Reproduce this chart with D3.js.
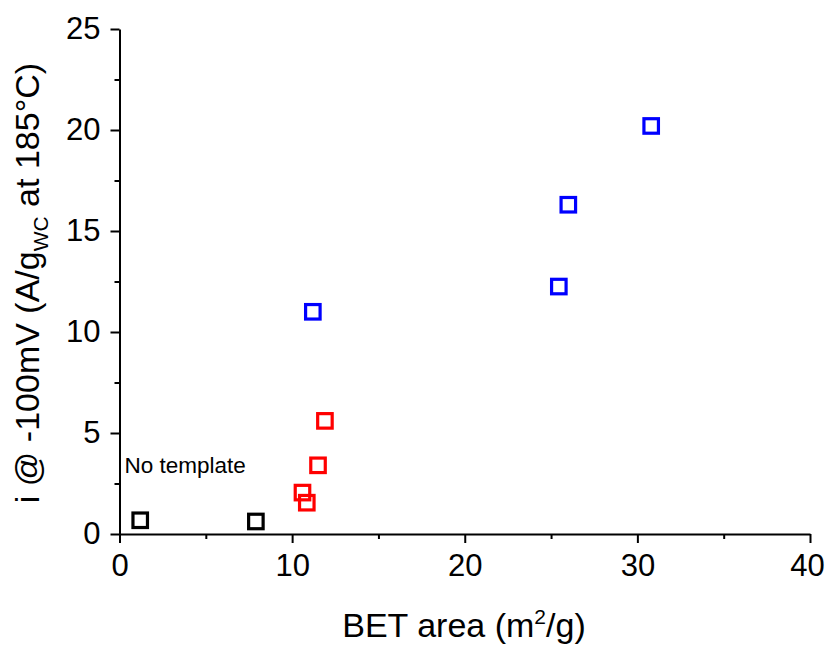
<!DOCTYPE html>
<html>
<head>
<meta charset="utf-8">
<script src="https://cdn.jsdelivr.net/npm/d3@7"></script>
<style>
  body { margin: 0; background: #fff; }
  svg text { font-family: "Liberation Sans", Arial, sans-serif; fill: #000; }
</style>
</head>
<body>
<div id="chart"></div>
<script>
// BET area (m2/g) and current at -100 mV, per sample group
const noTemplateX = [1.2, 7.9];
const noTemplateY = [0.68, 0.62];
const redX = [11.9, 11.5, 10.6, 10.85];
const redY = [5.6, 3.4, 2.05, 1.55];
const blueX = [11.2, 30.8, 26.0, 25.45];
const blueY = [11.0, 20.2, 16.3, 12.25];

const xTicks = [0, 10, 20, 30, 40];
const yTicks = [0, 5, 10, 15, 20, 25];

const series = [
    {name: "No template", color: "#000000", xs: noTemplateX, ys: noTemplateY},
    {name: "red", color: "#ff0000", xs: redX, ys: redY},
    {name: "blue", color: "#0000ff", xs: blueX, ys: blueY}
];

const W = 825, H = 645;
const margin = {top: 29, right: 15, bottom: 111, left: 119.5},
    width = W - margin.left - margin.right,
    height = H - margin.top - margin.bottom;

const svg = d3.select("#chart")
    .append("svg")
        .attr("width", W)
        .attr("height", H);

const g = svg.append("g")
    .attr("transform", "translate(" + margin.left + "," + margin.top + ")");

const x = d3.scaleLinear().domain([0, 40]).range([0, width]);
const y = d3.scaleLinear().domain([0, 25]).range([height, 0]);

// minor ticks first, then major ticks with labels
const xMinor = g.append("g")
    .attr("transform", "translate(0," + height + ")")
    .call(d3.axisBottom(x).tickValues(d3.range(5, 40, 10)).tickSize(5).tickFormat(""));
const yMinor = g.append("g")
    .call(d3.axisLeft(y).tickValues(d3.range(2.5, 25, 5)).tickSize(5).tickFormat(""));

const xAxis = g.append("g")
    .attr("transform", "translate(0," + height + ")")
    .call(d3.axisBottom(x).tickValues(xTicks).tickSize(9).tickPadding(11).tickSizeOuter(0));
const yAxis = g.append("g")
    .call(d3.axisLeft(y).tickValues(yTicks).tickSize(9).tickPadding(10).tickSizeOuter(0));

[xMinor, yMinor].forEach(a => a.select(".domain").remove());
[xMinor, yMinor, xAxis, yAxis].forEach(a => {
    a.selectAll("line").attr("stroke", "#000").attr("stroke-width", 2);
    a.select(".domain").attr("stroke", "#000").attr("stroke-width", 2);
});
xAxis.selectAll(".tick text").style("font-size", "31px");
yAxis.selectAll(".tick text").style("font-size", "31px");
// last label sits right at the page edge; nudge it in
xAxis.selectAll(".tick text").filter(d => d === 40).attr("dx", "-3");

// markers
const markerSize = 14.5;
series.forEach(s => {
    const pts = s.xs.map((v, i) => ({x: v, y: s.ys[i]}));
    g.selectAll(".pt-" + s.name.replace(/\s/g, ""))
        .data(pts)
        .join("rect")
            .attr("x", d => x(d.x) - markerSize / 2)
            .attr("y", d => y(d.y) - markerSize / 2)
            .attr("width", markerSize)
            .attr("height", markerSize)
            .attr("fill", "none")
            .attr("stroke", s.color)
            .attr("stroke-width", 3.2);
});

g.append("text")
    .attr("x", 5)
    .attr("y", y(3.0))
    .style("font-size", "22.5px")
    .text("No template");

// axis titles
svg.append("text")
    .attr("x", 464)
    .attr("y", 637)
    .attr("text-anchor", "middle")
    .style("font-size", "34px")
    .html("BET area (m<tspan dy='-13' font-size='21px'>2</tspan><tspan dy='13'>/g)</tspan>");

svg.append("text")
    .attr("transform", "translate(39,283) rotate(-90)")
    .attr("text-anchor", "middle")
    .style("font-size", "34px")
    .html("i @ -100mV (A/g<tspan dy='9' font-size='21px'>WC</tspan><tspan dy='-9'> at 185°C)</tspan>");
</script>
</body>
</html>
